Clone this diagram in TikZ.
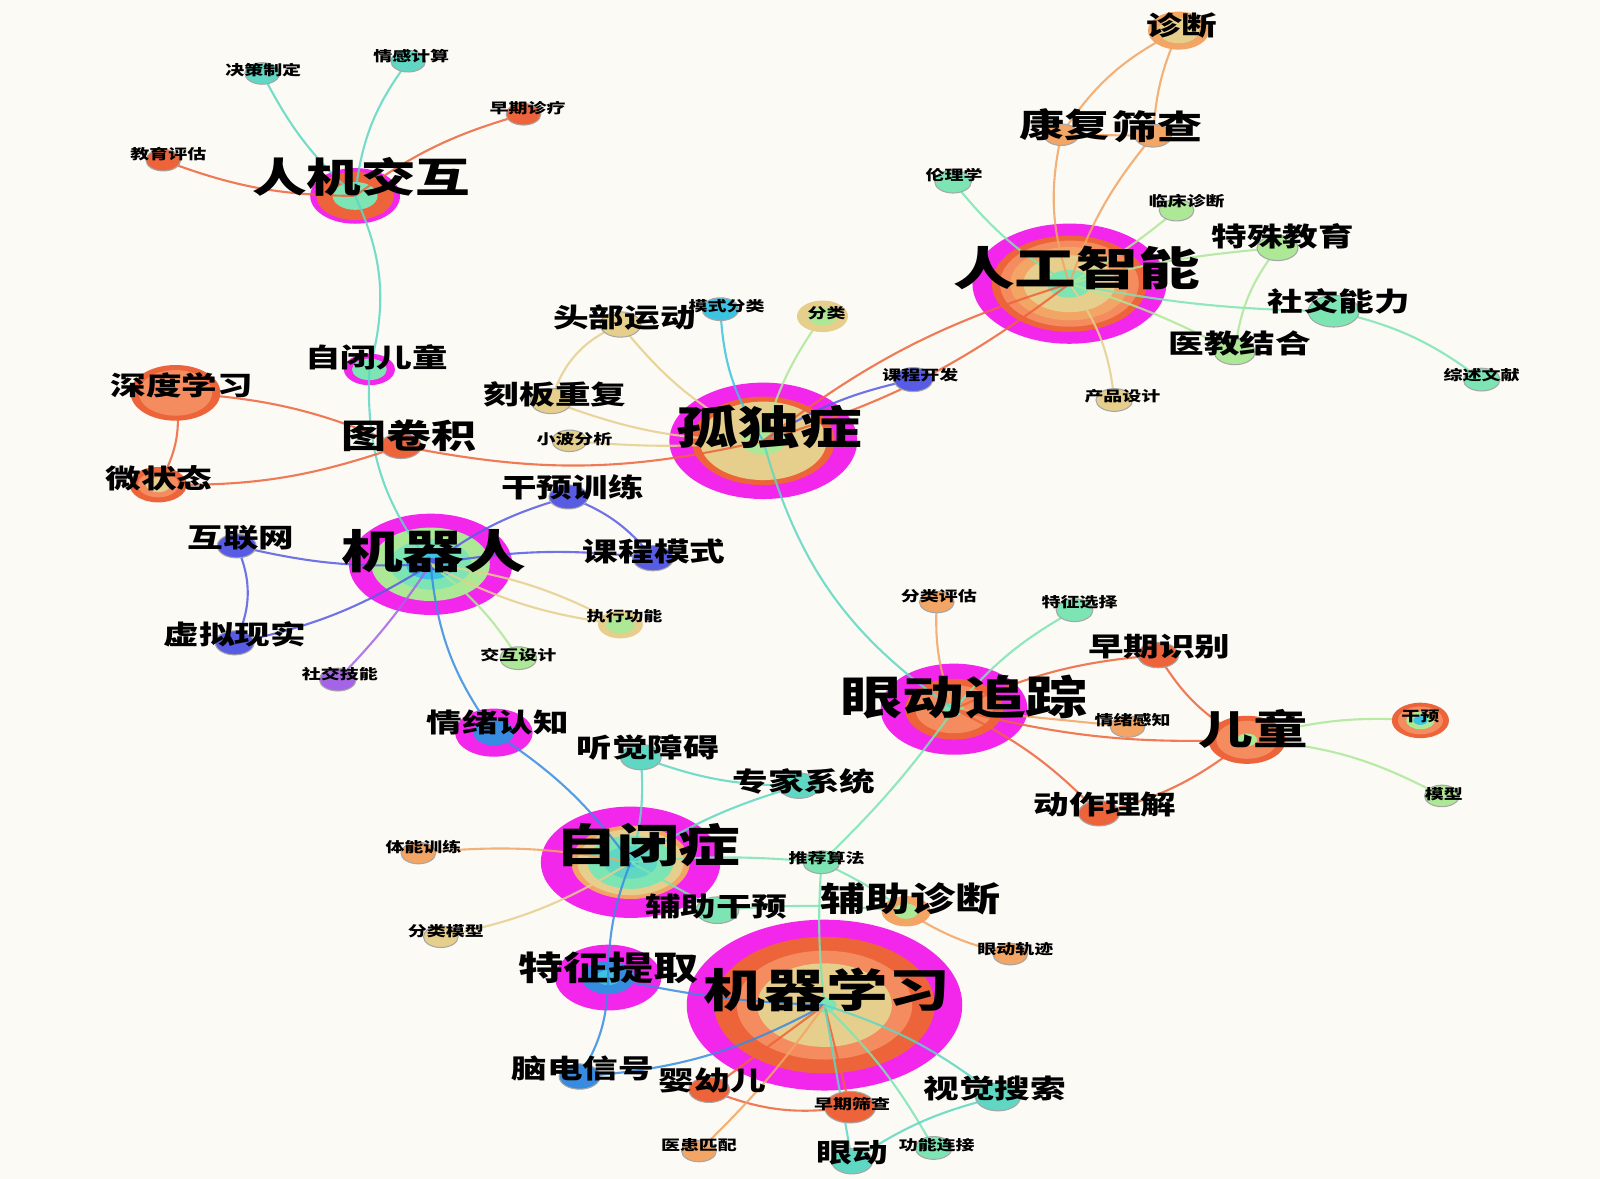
\documentclass[tikz,border=0pt]{standalone}
\usepackage{fontspec}
\setmainfont{Noto Sans CJK SC}
\usepackage{graphicx}
\definecolor{paper}{RGB}{251,250,245}
\definecolor{ringM}{RGB}{243,38,236}
\definecolor{ringR}{RGB}{238,100,58}
\definecolor{ringS}{RGB}{244,140,95}
\definecolor{ringO}{RGB}{242,165,100}
\definecolor{ringY}{RGB}{230,207,140}
\definecolor{ringG}{RGB}{172,232,150}
\definecolor{ringT}{RGB}{125,228,180}
\definecolor{ringC}{RGB}{95,215,195}
\definecolor{ringK}{RGB}{60,195,225}
\definecolor{ringV}{RGB}{88,92,228}
\definecolor{ringB}{RGB}{55,140,225}
\definecolor{ringP}{RGB}{165,100,230}
\tikzstyle{link}=[line width=0.6pt, opacity=0.85]
\tikzstyle{rim}=[line width=0.3pt, draw=black!35]
\tikzstyle{hugeword}=[inner sep=0pt, font=\fontsize{13}{13}\selectfont\bfseries]
\tikzstyle{bigword}=[inner sep=0pt, font=\fontsize{9.5}{9.5}\selectfont\bfseries]
\tikzstyle{midword}=[inner sep=0pt, font=\fontsize{7.5}{7.5}\selectfont\bfseries]
\tikzstyle{tinyword}=[inner sep=0pt, font=\fontsize{4}{4}\selectfont\bfseries]
\newcommand{\wtext}[1]{\scalebox{1.35}[1]{#1}}
\pgfdeclarelayer{hubs}
\pgfdeclarelayer{links}
\pgfsetlayers{hubs,links,main}

\begin{document}
\begin{tikzpicture}[x=0.10204mm, y=-0.10204mm]
	\useasboundingbox (0,0) rectangle (1568,1155);

	\begin{pgfonlayer}{hubs}
		\fill[paper] (0,0) rectangle (1568,1155);
		% Hub keywords with magenta rim
		\foreach \n/\x/\y/\rings in {
			rjjh/348/192/{44/ringM,38/ringR,22/ringT},
			zbet/362/362/{25/ringM,17/ringT},
			gdz/748/432/{92/ringM,70/ringR,62/ringY,22/ringG},
			rgzn/1048/278/{95/ringM,76/ringR,68/ringS,58/ringO,45/ringY,22/ringT},
			jqr/422/553/{80/ringM,58/ringG,40/ringT,24/ringK,10/ringV},
			ydzz/935/695/{72/ringM,48/ringR,38/ringS,10/ringT},
			zbz/618/845/{88/ringM,58/ringO,52/ringY,42/ringT,26/ringC,8/ringK},
			qxrz/484/718/{38/ringM,20/ringB},
			tzqq/596/958/{52/ringM,26/ringB,12/ringK},
			jqxx/808/985/{135/ringM,108/ringR,86/ringS,66/ringY,12/ringT}}{
			\coordinate (\n) at (\x,\y);
			\foreach \r/\c in \rings { \fill[\c] (\n) ellipse [x radius=\r, y radius=0.62*\r]; }
		}
	\end{pgfonlayer}

	% Keywords with rings, no rim
	\foreach \n/\x/\y/\rings in {
		sdxx/172/385/{44/ringR,36/ringS},
		wzt/155/475/{28/ringR,20/ringS,12/ringY},
		zd/1155/30/{30/ringO,20/ringY},
		fl/806/310/{25/ringY,14/ringG},
		zxgn/608/612/{22/ringY,14/ringG},
		et/1222/725/{38/ringR,30/ringS,10/ringG},
		gy/1392/706/{28/ringR,22/ringS,14/ringG,7/ringK},
		fzzd/888/893/{24/ringO,12/ringG}}{
		\coordinate (\n) at (\x,\y);
		\foreach \r/\c in \rings { \fill[\c] (\n) ellipse [x radius=\r, y radius=0.62*\r]; }
	}

	% Small keywords
	\foreach \n/\x/\y/\r/\c in {
		jczd/257/72/17/ringC, qgjs/400/60/17/ringC, zqzl/513/112/17/ringR,
		jypg/160/157/17/ringR, tjj/393/437/20/ringR, tbyd/608/318/20/ringY,
		msfl/706/303/18/ringK, kbcf/540/393/20/ringY, xbfx/558/432/17/ringY,
		kckf/895/372/19/ringV, kf/1040/132/17/ringO, sc/1130/133/18/ringO,
		llx/934/178/18/ringT, lczd/1153/206/17/ringG, tsjy/1252/243/20/ringG,
		sjnl/1307/305/25/ringT, yjjh/1210/345/20/ringG, zswx/1452/372/18/ringT,
		cpsj/1092/392/18/ringY, gyxl/557/487/19/ringV, kcms/640/547/20/ringV,
		hlw/232/535/19/ringV, xnxs/230/630/19/ringV, jhsj/508/645/18/ringG,
		sjjn/331/666/18/ringP, flpg/918/590/17/ringO, tzxz/1053/598/18/ringT,
		zqsb/1135/642/20/ringR, qxgz/1105/712/17/ringO, mx/1413/780/17/ringG,
		dzlj/1077/797/20/ringR, tjza/628/742/20/ringC, zjxt/783/770/20/ringC,
		tnxl/410/836/17/ringO, flmx/432/918/17/ringY, tjsf/805/845/18/ringT,
		fzgy/703/892/21/ringT, ydgj/990/935/17/ringO, ndxh/568/1055/20/ringB,
		yye/695/1068/20/ringR, zqsc/833/1085/25/ringR, yhpp/685/1128/17/ringO,
		yd/835/1138/20/ringC, gnlj/915/1125/18/ringT, sjss/978/1075/22/ringC}{
		\coordinate (\n) at (\x,\y);
		\filldraw[rim, fill=\c] (\n) ellipse [x radius=\r, y radius=0.62*\r];
	}

	% Co-occurrence links (bend > 0 is left)
	\begin{pgfonlayer}{links}
		\foreach \a/\b/\c/\k in {
			jczd/rjjh/ringC/-10, qgjs/rjjh/ringC/-15, rjjh/zqzl/ringR/10, jypg/rjjh/ringR/-10,
			rjjh/zbet/ringC/20, zbet/jqr/ringC/-20,
			sdxx/wzt/ringR/20, sdxx/tjj/ringR/10, wzt/tjj/ringR/-10, tjj/gdz/ringR/-12,
			tbyd/kbcf/ringY/-25, tbyd/gdz/ringY/-12, kbcf/gdz/ringY/-10, xbfx/gdz/ringY/-5,
			msfl/gdz/ringK/-15, fl/gdz/ringG/-10, kckf/gdz/ringV/-10,
			gdz/rgzn/ringR/10, gdz/rgzn/ringR/-10, gdz/ydzz/ringC/-20,
			zd/kf/ringO/-15, zd/sc/ringO/-10, kf/sc/ringO/0, kf/rgzn/ringO/-15, sc/rgzn/ringO/-10,
			llx/rgzn/ringT/-10, lczd/rgzn/ringG/5, tsjy/rgzn/ringG/-5, sjnl/rgzn/ringT/5,
			yjjh/rgzn/ringG/-5, tsjy/yjjh/ringG/-15, sjnl/zswx/ringT/12, cpsj/rgzn/ringY/-15,
			jqr/gyxl/ringV/10, gyxl/kcms/ringV/15, jqr/kcms/ringV/8, jqr/hlw/ringV/8,
			hlw/xnxs/ringV/25, jqr/xnxs/ringV/10, jqr/zxgn/ringY/10, jqr/zxgn/ringY/-10,
			jqr/jhsj/ringG/10, jqr/sjjn/ringP/5, jqr/qxrz/ringB/-15,
			flpg/ydzz/ringO/-12, ydzz/tzxz/ringT/10, ydzz/zqsb/ringR/10, zqsb/et/ringR/-15,
			ydzz/qxgz/ringO/0, ydzz/et/ringR/-8, ydzz/dzlj/ringR/10, dzlj/et/ringR/-12,
			et/gy/ringG/10, et/mx/ringG/12, ydzz/tjsf/ringT/5, tjsf/jqxx/ringT/-5,
			qxrz/zbz/ringB/10, zbz/tjza/ringC/-10, tjza/zjxt/ringC/-10, zbz/zjxt/ringC/8,
			zbz/tnxl/ringO/-8, zbz/flmx/ringY/10, zbz/tjsf/ringT/5, tjsf/fzzd/ringT/5,
			fzgy/fzzd/ringT/5, zbz/fzgy/ringT/0, fzzd/ydgj/ringO/-10, zbz/tzqq/ringB/-10,
			tzqq/jqxx/ringB/-5, tzqq/ndxh/ringB/15, ndxh/jqxx/ringB/-12,
			yye/zqsc/ringR/-15, jqxx/yye/ringR/0, jqxx/zqsc/ringR/0, jqxx/yhpp/ringO/5,
			jqxx/yd/ringC/0, jqxx/gnlj/ringT/8, jqxx/sjss/ringC/10, sjss/yd/ringC/-10}{
			\draw[link, \c] (\a) to[bend left=\k] (\b);
		}
	\end{pgfonlayer}

	% Labels
	\foreach \n/\x/\y/\t in {rgzn/1055/263/人工智能, gdz/754/418/孤独症,
		jqr/425/540/机器人, ydzz/945/683/眼动追踪, zbz/635/828/自闭症,
		jqxx/810/970/机器学习}{
		\node[hugeword] (\n-t) at (\x,\y) {\wtext{\t}};
	}
	\node[hugeword, font=\fontsize{11.5}{11.5}\selectfont\bfseries] (rjjh-t) at (354,173) {\wtext{人机交互}};
	\node[hugeword, font=\fontsize{11.5}{11.5}\selectfont\bfseries] (et-t) at (1228,714) {\wtext{儿童}};
	\foreach \n/\x/\y/\t in {kf/1043/122/康复, sc/1134/124/筛查, tjj/401/427/图卷积,
		fzzd/892/881/辅助诊断, tzqq/596/948/特征提取}{
		\node[bigword] (\n-t) at (\x,\y) {\wtext{\t}};
	}
	\foreach \n/\x/\y/\t in {zd/1158/25/诊断, tsjy/1257/232/特殊教育, sjnl/1312/295/社交能力,
		yjjh/1215/337/医教结合, tbyd/612/311/头部运动, kbcf/544/387/刻板重复,
		sdxx/178/378/深度学习, wzt/156/469/微状态, zbet/369/350/自闭儿童,
		gyxl/561/478/干预训练, kcms/641/540/课程模式, hlw/236/527/互联网,
		xnxs/230/622/虚拟现实, zqsb/1136/634/早期识别, dzlj/1083/788/动作理解,
		qxrz/488/708/情绪认知, tjza/635/733/听觉障碍, zjxt/788/766/专家系统,
		fzgy/702/888/辅助干预, ndxh/571/1047/脑电信号, yye/698/1059/婴幼儿,
		sjss/975/1067/视觉搜索, yd/835/1130/眼动}{
		\node[midword] (\n-t) at (\x,\y) {\wtext{\t}};
	}
	\foreach \n/\x/\y/\t in {jczd/258/69/决策制定, qgjs/403/55/情感计算, zqzl/517/106/早期诊疗,
		jypg/165/151/教育评估, llx/935/172/伦理学, lczd/1163/197/临床诊断,
		zswx/1452/368/综述文献, cpsj/1100/388/产品设计, kckf/902/368/课程开发,
		msfl/712/300/模式分类, fl/810/307/分类, xbfx/563/430/小波分析,
		zxgn/612/604/执行功能, jhsj/508/642/交互设计, sjjn/333/661/社交技能,
		flpg/920/584/分类评估, tzxz/1058/590/特征选择, qxgz/1110/706/情绪感知,
		gy/1392/702/干预, mx/1415/778/模型, tnxl/415/830/体能训练,
		flmx/437/913/分类模型, tjsf/810/841/推荐算法, ydgj/995/930/眼动轨迹,
		zqsc/835/1082/早期筛查, yhpp/685/1122/医患匹配, gnlj/918/1122/功能连接}{
		\node[tinyword] (\n-t) at (\x,\y) {\wtext{\t}};
	}
\end{tikzpicture}
\end{document}
